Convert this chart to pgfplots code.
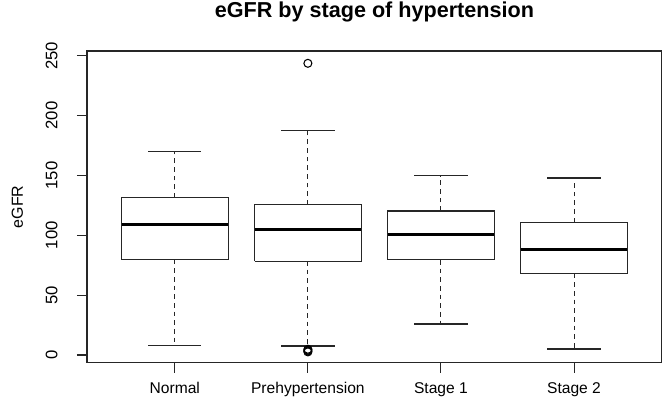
\documentclass[border=0pt]{standalone}
\usepackage{fontspec}
\setmainfont{Liberation Sans}
\usepackage{pgfplots}
\pgfplotsset{compat=1.18}
\begin{document}
\begin{tikzpicture}
\begin{axis}[
  name=ax,
  scale only axis,
  width=431.25pt, height=233.8pt,
  xmin=0.34, xmax=4.66, ymin=-6.4, ymax=254,
  xtick={1,2,3,4},
  xticklabels={Normal,Prehypertension,Stage 1,Stage 2},
  ytick={0,50,100,150,200,250},
  tick align=outside, tick pos=left,
  major tick length=7.5pt,
  axis line style={line width=0.8pt, black!85},
  every tick/.style={black!85, line width=0.8pt},
  /pgf/number format/assume math mode=true,
  ticklabel style={font=\fontsize{11.7}{14}\selectfont},
  yticklabel style={rotate=90, anchor=south, font=\fontsize{12.5}{14}\selectfont},
  yticklabel shift=11pt,
  xticklabel style={yshift=-4pt},
  ylabel={eGFR},
  ylabel style={at={(axis description cs:-0.121,0.5)}, anchor=center, font=\fontsize{12}{14}\selectfont},
  title={eGFR by stage of hypertension},
  title style={at={(axis description cs:0.5,1)}, anchor=base, yshift=18.75pt, font=\fontsize{16.2}{18}\selectfont\bfseries},
  unbounded coords=jump,
  clip=false,
]
% boxes (Q1, Q3)
\addplot[black!85, line width=0.8pt, line join=miter, mark=none] coordinates {
 (0.6,79.6) (1.4,79.6) (1.4,131.4) (0.6,131.4) (0.6,79.6) (nan,nan)
 (1.6,78.5) (2.4,78.5) (2.4,125.6) (1.6,125.6) (1.6,78.5) (nan,nan)
 (2.6,79.4) (3.4,79.4) (3.4,120.3) (2.6,120.3) (2.6,79.4) (nan,nan)
 (3.6,67.9) (4.4,67.9) (4.4,110.9) (3.6,110.9) (3.6,67.9)
};
% medians
\addplot[black, line width=2.4pt, mark=none] coordinates {
 (0.6,109.2) (1.4,109.2) (nan,nan)
 (1.6,105.0) (2.4,105.0) (nan,nan)
 (2.6,100.5) (3.4,100.5) (nan,nan)
 (3.6,88.3) (4.4,88.3)
};
% whiskers (dashed)
\addplot[black!85, line width=0.8pt, dash pattern=on 3.5pt off 3pt, mark=none] coordinates {
 (1,131.4) (1,170.2) (nan,nan) (1,79.6) (1,7.8) (nan,nan)
 (2,125.6) (2,187.4) (nan,nan) (2,78.5) (2,7.5) (nan,nan)
 (3,120.3) (3,149.8) (nan,nan) (3,79.4) (3,25.9) (nan,nan)
 (4,110.9) (4,147.9) (nan,nan) (4,67.9) (4,5.0)
};
% whisker caps
\addplot[black!85, line width=0.8pt, mark=none] coordinates {
 (0.8,170.2) (1.2,170.2) (nan,nan) (0.8,7.8) (1.2,7.8) (nan,nan)
 (1.8,187.4) (2.2,187.4) (nan,nan) (1.8,7.5) (2.2,7.5) (nan,nan)
 (2.8,149.8) (3.2,149.8) (nan,nan) (2.8,25.9) (3.2,25.9) (nan,nan)
 (3.8,147.9) (4.2,147.9) (nan,nan) (3.8,5.0) (4.2,5.0)
};
% outliers
\addplot[black, only marks, mark=o, mark size=3pt, mark options={line width=0.8pt}] coordinates {
 (2,243.7) (2,2.6) (2,3.3) (2,4.0) (2,4.8)
};
\end{axis}
\pgfresetboundingbox
\path[use as bounding box] ([xshift=-65.25pt, yshift=-32.5pt]ax.south west) rectangle ([xshift=1.6pt, yshift=38.25pt]ax.north east);
\end{tikzpicture}
\end{document}
